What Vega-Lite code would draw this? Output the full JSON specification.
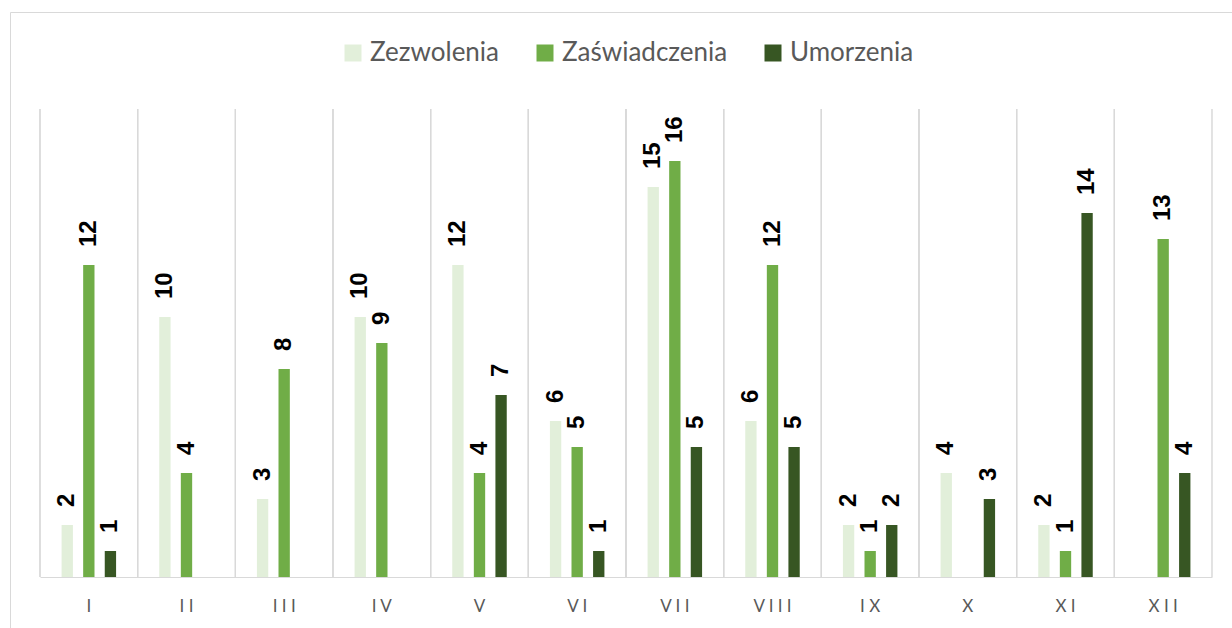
{
  "$schema": "https://vega.github.io/schema/vega-lite/v6.json",
  "width": 1222,
  "height": 616,
  "autosize": {"type": "none"},
  "padding": {"left": 10, "top": 12, "right": 0, "bottom": 0},
  "background": "white",
  "config": {
    "view": {"stroke": "#d9d9d9", "strokeWidth": 1},
    "font": "Lato"
  },
  "data": {
    "values": [
      {"month": "I", "series": "Zezwolenia", "value": 2},
      {"month": "I", "series": "Zaświadczenia", "value": 12},
      {"month": "I", "series": "Umorzenia", "value": 1},
      {"month": "II", "series": "Zezwolenia", "value": 10},
      {"month": "II", "series": "Zaświadczenia", "value": 4},
      {"month": "III", "series": "Zezwolenia", "value": 3},
      {"month": "III", "series": "Zaświadczenia", "value": 8},
      {"month": "IV", "series": "Zezwolenia", "value": 10},
      {"month": "IV", "series": "Zaświadczenia", "value": 9},
      {"month": "V", "series": "Zezwolenia", "value": 12},
      {"month": "V", "series": "Zaświadczenia", "value": 4},
      {"month": "V", "series": "Umorzenia", "value": 7},
      {"month": "VI", "series": "Zezwolenia", "value": 6},
      {"month": "VI", "series": "Zaświadczenia", "value": 5},
      {"month": "VI", "series": "Umorzenia", "value": 1},
      {"month": "VII", "series": "Zezwolenia", "value": 15},
      {"month": "VII", "series": "Zaświadczenia", "value": 16},
      {"month": "VII", "series": "Umorzenia", "value": 5},
      {"month": "VIII", "series": "Zezwolenia", "value": 6},
      {"month": "VIII", "series": "Zaświadczenia", "value": 12},
      {"month": "VIII", "series": "Umorzenia", "value": 5},
      {"month": "IX", "series": "Zezwolenia", "value": 2},
      {"month": "IX", "series": "Zaświadczenia", "value": 1},
      {"month": "IX", "series": "Umorzenia", "value": 2},
      {"month": "X", "series": "Zezwolenia", "value": 4},
      {"month": "X", "series": "Umorzenia", "value": 3},
      {"month": "XI", "series": "Zezwolenia", "value": 2},
      {"month": "XI", "series": "Zaświadczenia", "value": 1},
      {"month": "XI", "series": "Umorzenia", "value": 14},
      {"month": "XII", "series": "Zaświadczenia", "value": 13},
      {"month": "XII", "series": "Umorzenia", "value": 4}
    ]
  },
  "layer": [
    {
      "mark": {"type": "rule", "color": "#d9d9d9", "strokeWidth": 1},
      "encoding": {
        "x": {"field": "month", "type": "nominal", "sort": ["I","II","III","IV","V","VI","VII","VIII","IX","X","XI","XII"], "bandPosition": 0,
              "scale": {"range": [30, 1202], "paddingInner": 0, "paddingOuter": 0},
              "axis": {"title": null, "labelAngle": 0, "ticks": false, "domainColor": "#d9d9d9", "domainWidth": 1, "offset": -51, "labelFont": "Lato", "labelFontSize": 17, "labelColor": "#595959", "labelBaseline": "alphabetic", "labelPadding": 34, "labelExpr": "join(split(datum.label, ''), ' ')"}},
        "y": {"datum": 0, "type": "quantitative", "scale": {"domain": [0, 18], "range": [565, 97]}, "axis": null},
        "y2": {"datum": 18}
      }
    },
    {
      "mark": {"type": "rule", "color": "#d9d9d9", "strokeWidth": 1},
      "encoding": {
        "x": {"field": "month", "type": "nominal", "sort": ["I","II","III","IV","V","VI","VII","VIII","IX","X","XI","XII"], "bandPosition": 1,
              "axis": {"title": null, "labelAngle": 0, "ticks": false, "domainColor": "#d9d9d9", "domainWidth": 1, "offset": -51, "labelFont": "Lato", "labelFontSize": 17, "labelColor": "#595959", "labelBaseline": "alphabetic", "labelPadding": 34, "labelExpr": "join(split(datum.label, ''), ' ')"}},
        "y": {"datum": 0, "type": "quantitative", "axis": null},
        "y2": {"datum": 18}
      }
    },
    {
      "mark": {"type": "bar"},
      "encoding": {
        "x": {"field": "month", "type": "nominal", "sort": ["I","II","III","IV","V","VI","VII","VIII","IX","X","XI","XII"],
              "axis": {"title": null, "labelAngle": 0, "ticks": false, "domainColor": "#d9d9d9", "domainWidth": 1, "offset": -51, "labelFont": "Lato", "labelFontSize": 17, "labelColor": "#595959", "labelBaseline": "alphabetic", "labelPadding": 34, "labelExpr": "join(split(datum.label, ''), ' ')"}},
        "xOffset": {"field": "series", "type": "nominal", "sort": ["Zezwolenia", "Zaświadczenia", "Umorzenia"],
                    "scale": {"domain": ["Zezwolenia", "Zaświadczenia", "Umorzenia"], "paddingInner": 0.475, "paddingOuter": 1.18}},
        "y": {"field": "value", "type": "quantitative", "axis": null},
        "color": {"field": "series", "type": "nominal",
                  "scale": {"domain": ["Zezwolenia", "Zaświadczenia", "Umorzenia"], "range": ["#E2EFDA", "#70AD47", "#375623"]},
                  "legend": {"title": null, "orient": "none", "legendX": 330, "legendY": 28, "direction": "horizontal", "padding": 0,
                             "symbolType": "square", "symbolSize": 289, "symbolStrokeWidth": 0, "symbolOpacity": 1,
                             "labelFont": "Lato", "labelFontSize": 26, "labelColor": "#595959", "labelOffset": 4, "columnPadding": 32, "labelLimit": 400}}
      }
    },
    {
      "mark": {"type": "text", "angle": -90, "align": "left", "baseline": "middle", "dx": 18, "font": "Liberation Sans", "fontWeight": "bold", "fontSize": 24, "color": "#000000"},
      "encoding": {
        "x": {"field": "month", "type": "nominal", "sort": ["I","II","III","IV","V","VI","VII","VIII","IX","X","XI","XII"],
              "axis": {"title": null, "labelAngle": 0, "ticks": false, "domainColor": "#d9d9d9", "domainWidth": 1, "offset": -51, "labelFont": "Lato", "labelFontSize": 17, "labelColor": "#595959", "labelBaseline": "alphabetic", "labelPadding": 34, "labelExpr": "join(split(datum.label, ''), ' ')"}},
        "xOffset": {"field": "series", "type": "nominal", "sort": ["Zezwolenia", "Zaświadczenia", "Umorzenia"]},
        "y": {"field": "value", "type": "quantitative", "axis": null},
        "text": {"field": "value", "type": "quantitative"}
      }
    }
  ]
}
